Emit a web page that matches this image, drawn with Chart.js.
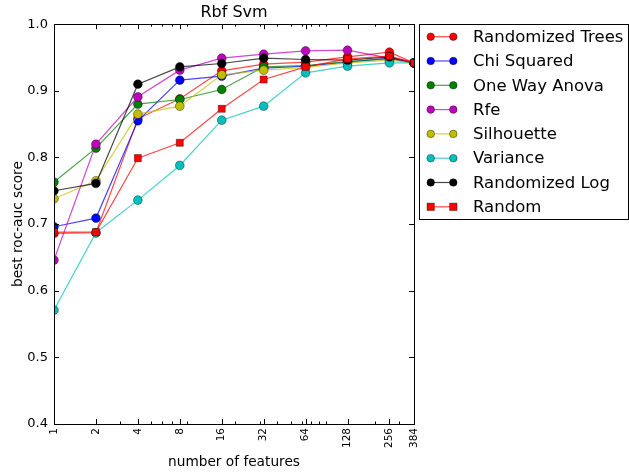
<!DOCTYPE html>
<html>
<head>
<meta charset="utf-8">
<title>Rbf Svm</title>
<script src="https://cdn.jsdelivr.net/npm/chart.js@4.4.1/dist/chart.umd.min.js"></script>
<style>
  html, body { margin: 0; padding: 0; background: #fff; }
  #wrap { width: 629px; height: 474px; position: relative; }
</style>
</head>
<body>
<div id="wrap"><canvas id="rocChart"></canvas></div>
<script>
// número de features (eje x, escala log)
const features = [1, 2, 4, 8, 16, 32, 64, 128, 256, 384];
const xTicks = [1, 2, 4, 8, 16, 32, 64, 128, 256, 384];
const xMinorTicks = [3, 5, 6, 7, 9, 20, 30, 40, 50, 60, 70, 80, 90, 200, 300];
const yTicks = [0.4, 0.5, 0.6, 0.7, 0.8, 0.9, 1.0];

// mejor roc-auc por método de selección
const randomizedTrees = [0.686, 0.687, 0.858, 0.888, 0.930, 0.940, 0.943, 0.951, 0.958, 0.942];
const chiSquared      = [0.696, 0.709, 0.855, 0.916, 0.922, 0.934, 0.937, 0.943, 0.949, 0.942];
const oneWayAnova     = [0.763, 0.814, 0.880, 0.887, 0.902, 0.936, 0.938, 0.944, 0.948, 0.942];
const rfe             = [0.646, 0.820, 0.891, 0.931, 0.949, 0.955, 0.960, 0.961, 0.949, 0.942];
const silhouette      = [0.738, 0.765, 0.865, 0.877, 0.924, 0.931, 0.935, 0.942, 0.946, 0.942];
const variance        = [0.571, 0.687, 0.736, 0.788, 0.856, 0.877, 0.927, 0.937, 0.942, 0.942];
const randomizedLog   = [0.750, 0.761, 0.910, 0.936, 0.941, 0.949, 0.947, 0.946, 0.951, 0.942];
const random          = [0.688, 0.688, 0.799, 0.822, 0.873, 0.917, 0.936, 0.948, 0.952, 0.942];

const FONT = "'DejaVu Sans', sans-serif";

const series = [
  { label: 'Randomized Trees', data: randomizedTrees, rgb: [255, 0, 0],   marker: 'circle' },
  { label: 'Chi Squared',      data: chiSquared,      rgb: [0, 0, 255],   marker: 'circle' },
  { label: 'One Way Anova',    data: oneWayAnova,     rgb: [0, 128, 0],   marker: 'circle' },
  { label: 'Rfe',              data: rfe,             rgb: [191, 0, 191], marker: 'circle' },
  { label: 'Silhouette',       data: silhouette,      rgb: [191, 191, 0], marker: 'circle' },
  { label: 'Variance',         data: variance,        rgb: [0, 191, 191], marker: 'circle' },
  { label: 'Randomized Log',   data: randomizedLog,   rgb: [0, 0, 0],     marker: 'circle' },
  { label: 'Random',           data: random,          rgb: [255, 0, 0],   marker: 'rect' },
];

const rgba = (c, a) => `rgba(${c[0]}, ${c[1]}, ${c[2]}, ${a})`;

const datasets = series.map((s, i) => ({
  label: s.label,
  data: features.map((f, j) => ({ x: f, y: s.data[j] })),
  borderColor: rgba(s.rgb, 0.72),
  borderWidth: 1.2,
  backgroundColor: rgba(s.rgb, 1),
  pointBackgroundColor: rgba(s.rgb, 1),
  pointBorderColor: 'rgba(0, 0, 0, 0.55)',
  pointBorderWidth: 0.7,
  pointStyle: s.marker,
  pointRadius: s.marker === 'rect' ? 5 : 4.4,
  tension: 0,
  clip: 0,
  order: series.length - i,
}));

// marco + ticks hacia dentro (estilo matplotlib)
const framePlugin = {
  id: 'frame',
  afterDatasetsDraw(chart) {
    const { ctx, chartArea: a, scales } = chart;
    ctx.save();
    ctx.strokeStyle = '#000';
    ctx.lineWidth = 1;
    ctx.beginPath();
    xTicks.forEach(v => {
      const px = Math.round(scales.x.getPixelForValue(v)) + 0.5;
      ctx.moveTo(px, a.bottom); ctx.lineTo(px, a.bottom - 5);
      ctx.moveTo(px, a.top); ctx.lineTo(px, a.top + 5);
    });
    xMinorTicks.forEach(v => {
      const px = Math.round(scales.x.getPixelForValue(v)) + 0.5;
      ctx.moveTo(px, a.bottom); ctx.lineTo(px, a.bottom - 2.5);
      ctx.moveTo(px, a.top); ctx.lineTo(px, a.top + 2.5);
    });
    yTicks.forEach(v => {
      const py = Math.round(scales.y.getPixelForValue(v)) + 0.5;
      ctx.moveTo(a.left, py); ctx.lineTo(a.left + 5, py);
      ctx.moveTo(a.right, py); ctx.lineTo(a.right - 5, py);
    });
    ctx.stroke();
    ctx.strokeRect(Math.round(a.left) + 0.5, Math.round(a.top) + 0.5,
      Math.round(a.right - a.left), Math.round(a.bottom - a.top));
    ctx.restore();
  }
};

// leyenda fuera del área, a la derecha
const legendPlugin = {
  id: 'sideLegend',
  afterDraw(chart) {
    const { ctx } = chart;
    ctx.save();
    ctx.fillStyle = '#fff';
    ctx.fillRect(419, 24, 209, 195);
    ctx.strokeStyle = '#000';
    ctx.lineWidth = 1;
    ctx.strokeRect(419.5, 24.5, 209, 195);
    ctx.font = `16.5px ${FONT}`;
    ctx.textBaseline = 'middle';
    series.forEach((s, i) => {
      const y = 36.7 + i * 24.3;
      ctx.strokeStyle = rgba(s.rgb, 0.72);
      ctx.lineWidth = 1.2;
      ctx.beginPath();
      ctx.moveTo(430.7, y); ctx.lineTo(453.3, y);
      ctx.stroke();
      [430.7, 453.3].forEach(cx => {
        ctx.fillStyle = rgba(s.rgb, 1);
        ctx.strokeStyle = 'rgba(0, 0, 0, 0.55)';
        ctx.lineWidth = 0.7;
        ctx.beginPath();
        if (s.marker === 'rect') ctx.rect(cx - 3.7, y - 3.7, 7.4, 7.4);
        else ctx.arc(cx, y, 3.8, 0, Math.PI * 2);
        ctx.fill(); ctx.stroke();
      });
      ctx.fillStyle = '#000';
      ctx.fillText(s.label, 473, y + 1);
    });
    ctx.restore();
  }
};

new Chart(document.getElementById('rocChart').getContext('2d'), {
  type: 'line',
  data: { datasets },
  options: {
    responsive: true,
    maintainAspectRatio: false,
    animation: false,
    layout: { padding: { left: 0, right: 215, top: 0, bottom: 0 } },
    scales: {
      x: {
        type: 'logarithmic',
        min: 1,
        max: 384,
        afterBuildTicks: scale => { scale.ticks = xTicks.map(v => ({ value: v })); },
        afterFit: scale => { scale.height = 50; },
        grid: { display: false, drawTicks: false },
        border: { display: false },
        ticks: {
          color: '#000',
          font: { family: FONT, size: 10.5 },
          padding: 4,
          minRotation: 90,
          maxRotation: 90,
          autoSkip: false,
          callback: v => String(v),
        },
        title: {
          display: true,
          text: 'number of features',
          color: '#000',
          font: { family: FONT, size: 13.7 },
          padding: { top: 0, bottom: 3.5 },
        },
      },
      y: {
        type: 'linear',
        min: 0.4,
        max: 1.0,
        afterBuildTicks: scale => { scale.ticks = yTicks.map(v => ({ value: v })); },
        afterFit: scale => { scale.width = 54; },
        grid: { display: false, drawTicks: false },
        border: { display: false },
        ticks: {
          color: '#000',
          font: { family: FONT, size: 13 },
          padding: 6,
          callback: v => Number(v).toFixed(1),
        },
        title: {
          display: true,
          text: 'best roc-auc score',
          color: '#000',
          font: { family: FONT, size: 13.7 },
          padding: { top: 10.5, bottom: 0 },
        },
      },
    },
    plugins: {
      legend: { display: false },
      tooltip: { enabled: false },
      title: {
        display: true,
        text: 'Rbf Svm',
        color: '#000',
        fullSize: false,
        font: { family: FONT, size: 16, weight: 'normal' },
        padding: { top: 3, bottom: 2 },
      },
    },
  },
  plugins: [framePlugin, legendPlugin],
});
</script>
</body>
</html>
